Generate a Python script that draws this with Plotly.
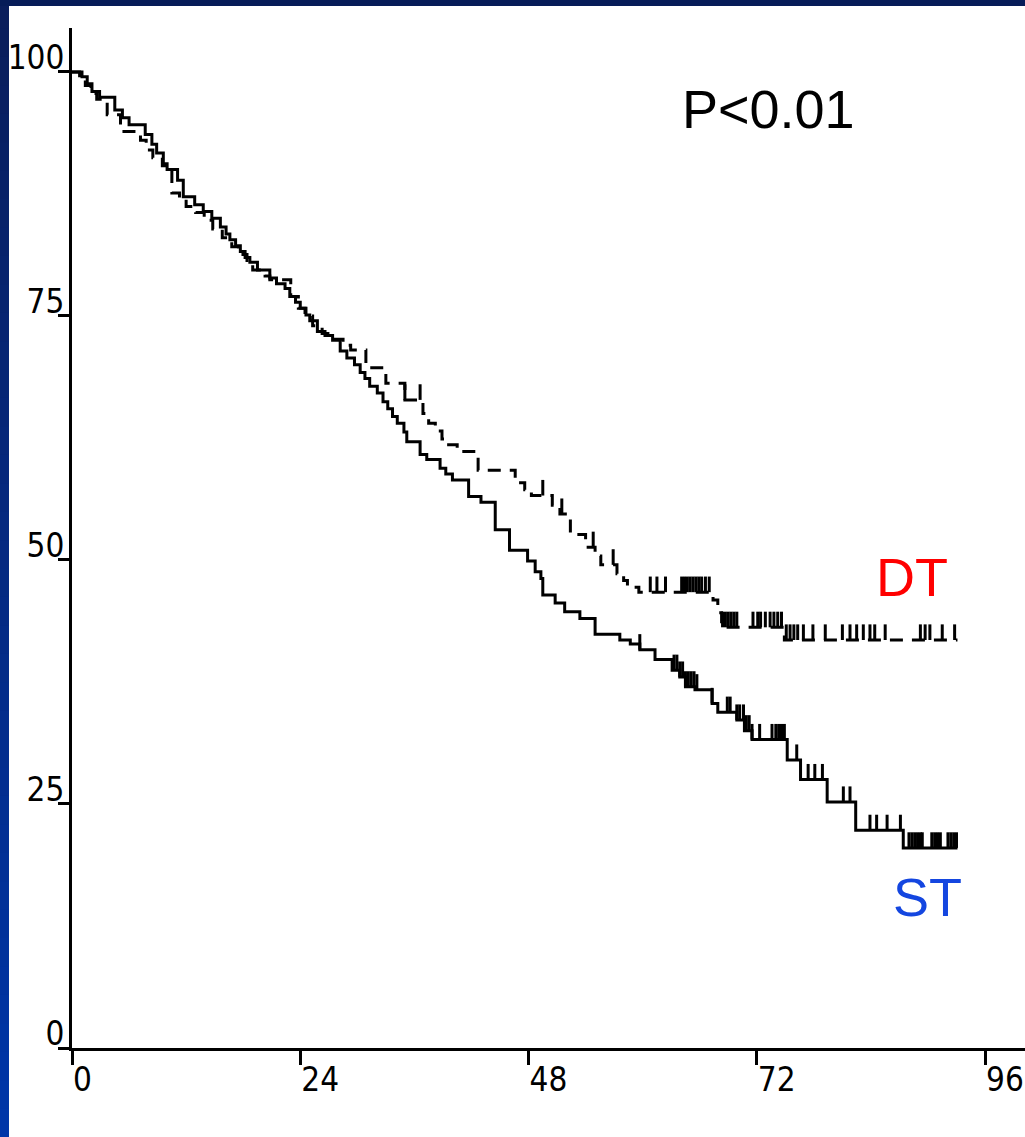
import numpy as np
import plotly.graph_objects as go

# Kaplan-Meier estimates: time in months, percent surviving after each drop
st_time = [0, 1.05, 1.6, 2.1, 2.9, 4.5, 5.3, 6.0, 7.7, 8.4, 8.9, 9.6, 10.0, 11.1, 11.7,
           12.9, 13.8, 14.7, 15.6, 16.2, 16.6, 17.2, 17.7, 18.2, 18.7, 19.5, 20.8, 21.5,
           22.4, 22.9, 23.5, 24.0, 24.6, 25.0, 25.8, 26.6, 27.4, 28.2, 28.9, 29.7, 30.3,
           30.8, 31.3, 32.1, 32.7, 33.2, 33.7, 34.2, 34.9, 35.2, 36.6, 37.3, 38.7, 39.3,
           40.0, 41.7, 43.0, 44.5, 46.0, 47.9, 48.7, 49.3, 49.5, 50.8, 51.8, 53.4, 55.0,
           57.6, 58.7, 59.7, 61.3, 63.1, 63.9, 64.5, 65.5, 67.3, 67.9, 69.9, 70.7, 71.5,
           75.2, 76.6, 79.4, 82.4, 87.4]
st_surv = [100, 99.5, 98.8, 98.0, 97.4, 96.1, 95.3, 94.6, 93.6, 92.6, 91.7, 90.6, 90.0, 88.9, 87.2,
           86.4, 85.7, 85.0, 84.1, 83.4, 82.8, 82.2, 81.6, 81.0, 80.5, 79.7, 78.9, 78.3,
           77.8, 77.0, 76.4, 75.8, 75.1, 74.5, 73.4, 73.0, 72.5, 71.4, 70.7, 70.0, 69.2,
           68.6, 67.8, 67.1, 66.2, 65.5, 64.7, 64.0, 63.1, 62.1, 60.8, 60.3, 59.4, 58.8,
           58.2, 56.5, 55.9, 53.1, 51.0, 49.9, 48.8, 48.1, 46.4, 45.6, 44.7, 44.0, 42.4,
           41.8, 41.4, 40.8, 39.8, 38.7, 38.0, 37.0, 36.7, 35.3, 34.4, 33.6, 32.5, 31.6,
           29.5, 27.5, 25.2, 22.3, 20.5]
st_censor = [59.7, 63.3, 63.6, 63.9, 64.2, 64.5, 64.8, 65.1, 65.4, 65.7, 67.3, 68.9, 69.2,
             69.9, 70.2, 70.6, 70.9, 71.2, 71.5, 72.3, 73.6, 74.0, 74.3, 74.6, 74.9, 76.2,
             77.4, 78.1, 78.9, 81.1, 81.8, 83.9, 84.6, 85.7, 87.1, 88.0, 88.3, 88.6, 88.9,
             89.2, 89.4, 90.4, 90.7, 91.0, 91.3, 92.1, 92.4, 92.7, 93.0]

dt_time = [0, 0.8, 1.4, 2.0, 2.6, 3.7, 5.1, 7.2, 7.8, 8.5, 9.5, 10.5, 11.3, 12.0, 13.0,
           13.9, 14.8, 15.8, 16.8, 17.5, 18.4, 19.0, 20.3, 20.8, 23.0, 23.8, 24.5, 25.3,
           26.3, 27.2, 28.5, 29.3, 30.9, 33.0, 35.0, 36.9, 37.5, 38.2, 38.9, 39.4, 40.5,
           42.7, 46.6, 47.6, 48.3, 50.5, 51.3, 52.4, 54.0, 55.0, 55.6, 57.3, 58.0, 58.4,
           59.6, 67.4, 67.9, 68.3, 74.9]
dt_surv = [100, 99.4, 98.6, 97.8, 97.2, 95.6, 93.9, 93.0, 92.0, 91.2, 90.4, 87.6, 87.0, 86.2, 85.6,
           84.8, 83.9, 83.0, 82.1, 81.3, 80.5, 79.7, 79.1, 78.7, 77.0, 75.8, 75.0, 74.0,
           73.2, 72.6, 72.0, 71.5, 69.7, 68.1, 66.4, 65.0, 64.0, 63.2, 62.4, 61.8, 61.1,
           59.2, 57.9, 57.2, 56.6, 55.6, 54.7, 52.6, 51.3, 50.4, 49.5, 48.6, 47.9, 47.2,
           46.7, 45.9, 44.6, 43.1, 41.8]
dt_censor = [35.0, 36.6, 49.5, 51.5, 54.8, 56.9, 60.8, 61.5, 62.4, 64.1, 64.4, 64.7, 65.0,
             65.3, 65.6, 65.9, 66.2, 66.6, 67.0, 68.4, 68.7, 69.0, 69.3, 69.6, 69.9, 71.6,
             72.1, 72.4, 72.9, 73.4, 73.8, 74.2, 74.6, 75.1, 75.5, 75.9, 76.3, 76.9, 77.9,
             79.2, 81.0, 81.8, 82.5, 83.2, 83.9, 84.4, 85.5, 89.2, 89.7, 90.2, 91.5, 92.8]

follow_up_end = 93.1

x_ticks = [0, 24, 48, 72, 96]
y_ticks = [0, 25, 50, 75, 100]
p_text = "P<0.01"

W, H = 1025, 1137
ML, MR, MT, MB = 72, 0, 28, 89


def step_path(times, surv, end):
    return list(times) + [end], list(surv) + [surv[-1]]


def censor_marks(times, surv, cens, h=1.6):
    t = np.asarray(times)
    s = np.asarray(surv)
    xs, ys = [], []
    for c in cens:
        i = np.searchsorted(t, c, side="right") - 1
        lvl = float(s[i])
        xs += [c, c, None]
        ys += [lvl, lvl + h, None]
    return xs, ys


fig = go.Figure()

sx, sy = step_path(st_time, st_surv, follow_up_end)
fig.add_trace(go.Scatter(x=sx, y=sy, mode="lines", line_shape="hv",
                         line=dict(color="black", width=3), name="ST"))
dx, dy = step_path(dt_time, dt_surv, follow_up_end)
fig.add_trace(go.Scatter(x=dx, y=dy, mode="lines", line_shape="hv",
                         line=dict(color="black", width=3, dash="13px,9px"), name="DT"))

for times, surv, cens in [(st_time, st_surv, st_censor), (dt_time, dt_surv, dt_censor)]:
    cx, cy = censor_marks(times, surv, cens)
    fig.add_trace(go.Scatter(x=cx, y=cy, mode="lines",
                             line=dict(color="black", width=3), hoverinfo="skip"))

tick_font = dict(family="DejaVu Sans Condensed, Liberation Sans Narrow, Arial Narrow, sans-serif",
                 size=33, color="black")

fig.update_xaxes(range=[0, 100.2], tickvals=x_ticks, ticktext=[str(v) for v in x_ticks],
                 showline=True, linecolor="black", linewidth=3,
                 ticks="outside", ticklen=14, tickwidth=3, tickcolor="black",
                 ticklabelposition="outside right", ticklabeloverflow="allow",
                 ticklabelstandoff=0, ticklabelshift=-2, tickfont=tick_font,
                 showgrid=False, zeroline=False, automargin=False)
fig.update_yaxes(range=[0, 104.5], tickvals=y_ticks, ticktext=[str(v) for v in y_ticks],
                 showline=True, linecolor="black", linewidth=3,
                 ticks="outside", ticklen=11, tickwidth=3, tickcolor="black",
                 ticklabelposition="outside top", ticklabeloverflow="allow",
                 ticklabelstandoff=-2, ticklabelshift=10, tickfont=tick_font,
                 showgrid=False, zeroline=False, automargin=False)

label_font = "Liberation Sans, Arial, sans-serif"
fig.add_annotation(x=73.2, y=96.2, text=p_text, showarrow=False,
                   font=dict(family=label_font, size=54, color="black"))
fig.add_annotation(x=88.3, y=48.3, text="DT", showarrow=False,
                   font=dict(family=label_font, size=54, color="#ff0000"))
fig.add_annotation(x=89.9, y=15.5, text="ST", showarrow=False,
                   font=dict(family=label_font, size=54, color="#1446e0"))

# page frame: dark band along the top, blue gradient band down the left side
pw, ph = W - ML - MR, H - MT - MB


def px_x(px):
    return (px - ML) / pw


def px_y(py):
    return (H - MB - py) / ph


shapes = []
n_bands = 40
top_rgb = np.array([10, 30, 92])
bot_rgb = np.array([0, 54, 168])
for k in range(n_bands):
    f = k / (n_bands - 1)
    r, g, b = (top_rgb + (bot_rgb - top_rgb) * f).astype(int)
    y0 = H * k / n_bands
    y1 = H * (k + 1) / n_bands + 1
    shapes.append(dict(type="rect", xref="paper", yref="paper", layer="above",
                       x0=px_x(0), x1=px_x(9), y0=px_y(y1), y1=px_y(y0),
                       fillcolor=f"rgb({r},{g},{b})", line=dict(width=0)))
shapes.append(dict(type="rect", xref="paper", yref="paper", layer="above",
                   x0=px_x(0), x1=px_x(W), y0=px_y(6), y1=px_y(0),
                   fillcolor="rgb(6,28,88)", line=dict(width=0)))

fig.update_layout(width=W, height=H, margin=dict(l=ML, r=MR, t=MT, b=MB),
                  paper_bgcolor="white", plot_bgcolor="white",
                  showlegend=False, shapes=shapes)

fig.write_html("out.html")
